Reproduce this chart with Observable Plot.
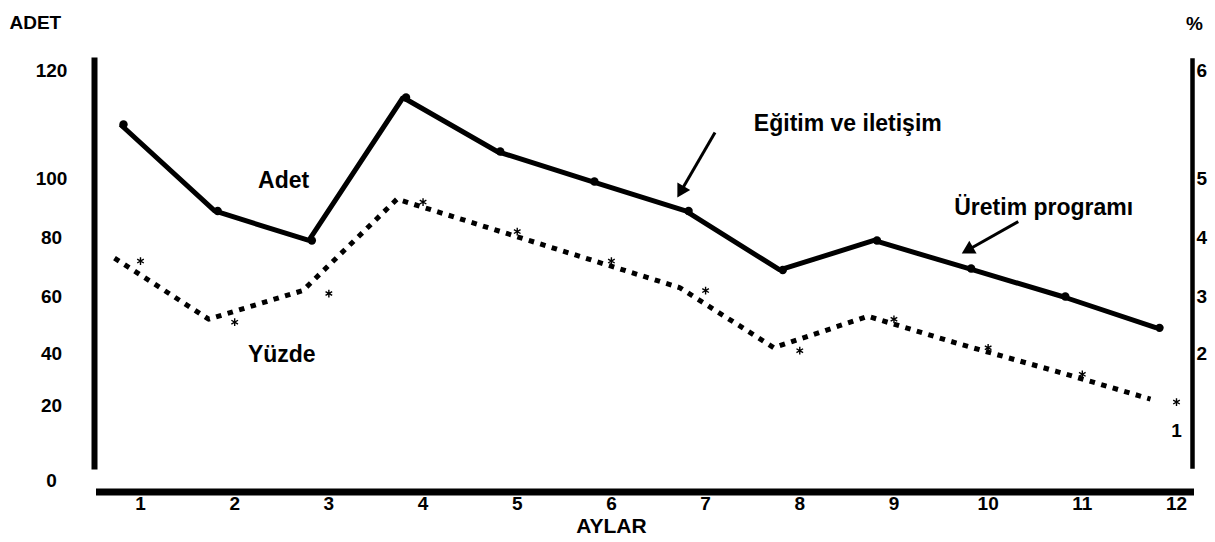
<!DOCTYPE html>
<html>
<head>
<meta charset="utf-8">
<script src="https://cdn.jsdelivr.net/npm/d3@7"></script>
<script src="https://cdn.jsdelivr.net/npm/@observablehq/plot@0.6"></script>
<style>
  html, body { margin: 0; padding: 0; background: #fff; }
  #chart svg { display: block; }
</style>
</head>
<body>
<div id="chart"></div>
<script>
// Monthly count (ADET, left axis) and share (%, right axis)
const months = [1, 2, 3, 4, 5, 6, 7, 8, 9, 10, 11, 12];
const adet = [110, 89, 79, 115, 105, 99, 89, 69, 79, 69.5, 60, 49];
const yuzde = [3.6, 2.55, 3.05, 4.6, 4.1, 3.6, 3.1, 2.05, 2.6, 2.1, 1.7, 1.3];

// Axis ticks: ADET on the left, % on the right
const adetTicks = [0, 20, 40, 60, 80, 100, 120];
const pctTicks = [1, 2, 3, 4, 5, 6];
// ADET level each percent tick lines up with
const pctOnAdet = [13.3, 40, 60, 80, 100, 120];

// In-chart labels and pointer arrows (month, ADET units)
const seriesLabels = [
  {x: 2.52, y: 99.3, text: "Adet"},
  {x: 2.5, y: 39.6, text: "Yüzde"},
  {x: 8.51, y: 110.2, text: "Eğitim ve iletişim"},
  {x: 10.59, y: 90.2, text: "Üretim programı"}
];
const pointers = [
  {x1: 7.10, y1: 108.5, x2: 6.70, y2: 93.6},
  {x1: 10.32, y1: 85.4, x2: 9.72, y2: 74.6}
];

// Scale layout: the ADET axis is spaced unevenly, so the y scale is piecewise
const W = 1215, H = 542;
const xDomain = [1, 12], xRange = [140, 1176];
const yRange = [480, 405, 353, 296, 237, 178, 70];
const xS = d3.scaleLinear(xDomain, xRange);
const yS = d3.scaleLinear(adetTicks, yRange);
const pctS = d3.scaleLinear(pctTicks, pctOnAdet);

const adetData = months.map((m, i) => ({month: m, value: adet[i]}));
const pctData = months.map((m, i) => ({month: m, value: pctS(yuzde[i])}));

// Filled triangular heads for the pointer arrows
const headR = 5.5;
const headTip = 2 * Math.sqrt((Math.PI * headR * headR) / (3 * Math.sqrt(3)));
const heads = pointers.map(a => {
  const px1 = xS(a.x1), py1 = yS(a.y1), px2 = xS(a.x2), py2 = yS(a.y2);
  const L = Math.hypot(px2 - px1, py2 - py1);
  const ux = (px2 - px1) / L, uy = (py2 - py1) / L;
  const cx = px2 - ux * headTip, cy = py2 - uy * headTip;
  return {
    x1: a.x1, y1: a.y1,
    x: xS.invert(cx), y: yS.invert(cy),
    angle: Math.atan2(ux, -uy) * 180 / Math.PI
  };
});

const font = "'Liberation Sans', Arial, Helvetica, sans-serif";

const chart = Plot.plot({
  width: W,
  height: H,
  marginTop: 60,
  marginBottom: 76,
  marginLeft: 94,
  marginRight: 23,
  style: {fontFamily: font, fontSize: "19px", fontWeight: "bold", color: "black", background: "white"},
  x: {domain: xDomain, range: xRange},
  y: {type: "linear", domain: adetTicks, range: yRange},
  marks: [
    // axis bars
    Plot.frame({anchor: "left", strokeWidth: 6}),
    Plot.frame({anchor: "right", strokeWidth: 4.5}),
    Plot.ruleY([0], {dx: 2, dy: 11.5, strokeWidth: 7}),

    // left ADET axis
    Plot.axisY({
      anchor: "left", ticks: adetTicks, tickSize: 0, tickPadding: 43,
      textAnchor: "middle", label: null, fontWeight: "bold", fontSize: 19
    }),
    // month axis
    Plot.axisX({
      anchor: "bottom", ticks: months, tickSize: 0, tickPadding: 30,
      label: null, tickFormat: d => String(d), fontWeight: "bold", fontSize: 19
    }),
    // right % axis
    Plot.text(pctTicks.filter(p => p > 1), {
      y: p => pctS(p), text: p => String(p), frameAnchor: "right", textAnchor: "start",
      dx: 4, fontWeight: "bold", fontSize: 19
    }),
    Plot.text(pctTicks.filter(p => p === 1), {
      y: p => pctS(p), text: p => String(p), frameAnchor: "right", textAnchor: "middle",
      dx: -16, fontWeight: "bold", fontSize: 19
    }),

    // axis titles
    Plot.text(["ADET"], {frameAnchor: "top-left", textAnchor: "start", dx: -85, dy: -45, fontWeight: "bold", fontSize: 19}),
    Plot.text(["%"], {frameAnchor: "top-right", textAnchor: "middle", dx: 2, dy: -44, fontWeight: "bold", fontSize: 19}),
    Plot.text(["AYLAR"], {x: () => 6, frameAnchor: "bottom", dy: 66, fontWeight: "bold", fontSize: 21}),

    // Yüzde: dotted line with asterisks
    Plot.line(pctData, {
      x: "month", y: "value", stroke: "black", strokeWidth: 5,
      strokeDasharray: "5.5,6.5", strokeLinecap: "butt", dx: -26, dy: -3
    }),
    Plot.dot(pctData, {x: "month", y: "value", symbol: "asterisk", r: 3.6, stroke: "black", strokeWidth: 1.4}),

    // Adet: solid line with dots
    Plot.line(adetData, {
      x: "month", y: "value", stroke: "black", strokeWidth: 5,
      strokeLinejoin: "miter", strokeLinecap: "butt", dx: -20
    }),
    Plot.dot(adetData, {x: "month", y: "value", r: 4.2, fill: "black", dx: -17}),

    // labels and pointers
    Plot.text(seriesLabels, {x: "x", y: "y", text: "text", fontSize: 23, fontWeight: "bold", lineAnchor: "middle"}),
    Plot.link(heads, {x1: "x1", y1: "y1", x2: "x", y2: "y", stroke: "black", strokeWidth: 3}),
    Plot.dot(heads, {x: "x", y: "y", symbol: "triangle", r: headR, fill: "black", rotate: "angle"})
  ]
});

document.getElementById("chart").appendChild(chart);
</script>
</body>
</html>
